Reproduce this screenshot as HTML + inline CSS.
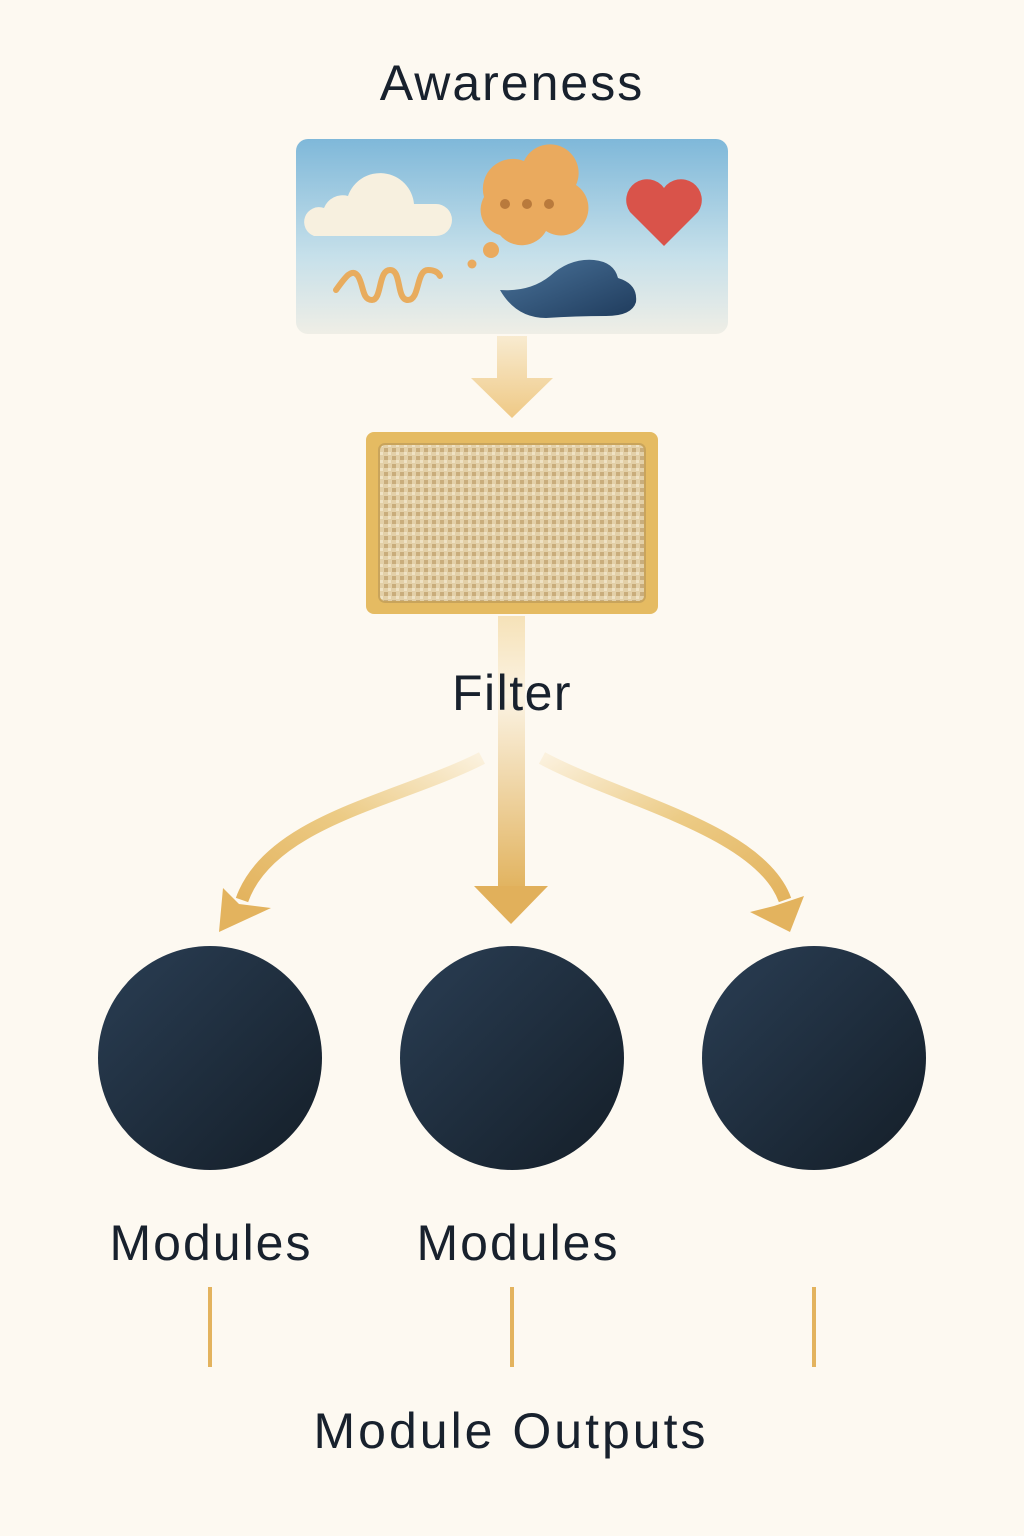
<!DOCTYPE html>
<html><head><meta charset="utf-8"><style>
html,body{margin:0;padding:0;background:#fdf9f1;}
svg{display:block}
</style></head><body>
<svg width="1024" height="1536" viewBox="0 0 1024 1536" xmlns="http://www.w3.org/2000/svg" font-family="Liberation Sans, DejaVu Sans, sans-serif">
<defs>
<linearGradient id="sky" x1="0" y1="0" x2="0" y2="1"><stop offset="0" stop-color="#7fb8d9"/><stop offset="0.6" stop-color="#c6e0ea"/><stop offset="1" stop-color="#efeee6"/></linearGradient>
<linearGradient id="arr1" x1="0" y1="0" x2="0" y2="1"><stop offset="0" stop-color="#f8ebd0"/><stop offset="1" stop-color="#efc985"/></linearGradient>
<linearGradient id="stem" x1="0" y1="0" x2="0" y2="1"><stop offset="0" stop-color="#f6e2b8"/><stop offset="0.3" stop-color="#fbf3e3"/><stop offset="1" stop-color="#e2b461"/></linearGradient>
<linearGradient id="circ" x1="0" y1="0" x2="1" y2="1"><stop offset="0" stop-color="#2a3e54"/><stop offset="1" stop-color="#141e28"/></linearGradient>
<linearGradient id="cl" x1="0" y1="0" x2="1" y2="1"><stop offset="0" stop-color="#4a739a"/><stop offset="1" stop-color="#1f3b5c"/></linearGradient>
<linearGradient id="curveL" x1="1" y1="0" x2="0" y2="1"><stop offset="0" stop-color="#fbf1dd"/><stop offset="0.5" stop-color="#eccb85"/><stop offset="1" stop-color="#e3b35e"/></linearGradient>
<linearGradient id="curveR" x1="0" y1="0" x2="1" y2="1"><stop offset="0" stop-color="#fbf1dd"/><stop offset="0.5" stop-color="#eccb85"/><stop offset="1" stop-color="#e3b35e"/></linearGradient>
<pattern id="weave" width="8" height="8" patternUnits="userSpaceOnUse"><rect width="8" height="8" fill="#e3d0a8"/><rect x="0" y="0" width="4" height="4" fill="#c9ad7c"/><rect x="4" y="4" width="3" height="3" fill="#efe2c4"/></pattern>
</defs>
<text x="512" y="100" font-size="50" text-anchor="middle" fill="#18212d" letter-spacing="2">Awareness</text>
<rect x="296" y="139" width="432" height="195" rx="12" fill="url(#sky)"/>
<path d="M328 236 h108 a16 16 0 0 0 0 -32 h-22 a34 34 0 0 0 -66 -8 a20 20 0 0 0 -24 12 a14 14 0 0 0 -10 28 z" fill="#f7f0df"/>
<path d="M500 235 a26 26 0 0 1 -16 -38 a30 30 0 0 1 40 -36 a28 28 0 0 1 52 24 a26 26 0 0 1 -30 46 a28 28 0 0 1 -46 4z" fill="#eaaa5e"/>
<circle cx="505" cy="204" r="5" fill="#b97a3c"/><circle cx="527" cy="204" r="5" fill="#b97a3c"/><circle cx="549" cy="204" r="5" fill="#b97a3c"/>
<circle cx="491" cy="250" r="8" fill="#eaaa5e"/><circle cx="472" cy="264" r="4.5" fill="#eaaa5e"/>
<path d="M664 246 l-34 -34 a20 20 0 0 1 34 -24 a20 20 0 0 1 34 24 z" fill="#d9534a"/>
<path d="M336 290 C346 276 352 268 358 276 C364 286 362 300 372 300 C382 300 378 270 390 270 C402 270 396 300 408 300 C420 300 416 270 428 270 C434 270 438 272 440 276" fill="none" stroke="#e8ac5e" stroke-width="6" stroke-linecap="round"/>
<path d="M500 290 q30 2 50 -14 q20 -18 44 -16 q20 2 24 18 q20 6 18 24 q-4 14 -30 14 q-30 0 -60 2 q-30 0 -46 -28z" fill="url(#cl)"/>
<path d="M497 336 h30 v42 h26 l-41 40 l-41 -40 h26z" fill="url(#arr1)"/>
<rect x="366" y="432" width="292" height="182" rx="8" fill="#e5bb62"/>
<rect x="379" y="444" width="266" height="158" rx="6" fill="url(#weave)" stroke="#c9a45b" stroke-width="2"/>
<rect x="498" y="616" width="27" height="270" fill="url(#stem)"/>
<path d="M474 886 h74 l-37 38z" fill="#e1b05b"/>
<text x="512" y="710" font-size="50" text-anchor="middle" fill="#18212d" letter-spacing="1.5">Filter</text>
<path d="M482 758 C400 800 270 820 242 900" fill="none" stroke="url(#curveL)" stroke-width="13"/>
<path d="M219 932 l4 -44 l16 16 l32 4z" fill="#e3b35e"/>
<path d="M542 758 C620 800 760 830 785 900" fill="none" stroke="url(#curveR)" stroke-width="13"/>
<path d="M790 932 l-40 -20 l24 -6 l30 -10z" fill="#e3b35e"/>
<circle cx="210" cy="1058" r="112" fill="url(#circ)"/>
<circle cx="512" cy="1058" r="112" fill="url(#circ)"/>
<circle cx="814" cy="1058" r="112" fill="url(#circ)"/>
<text x="211" y="1260" font-size="50" text-anchor="middle" fill="#18212d" letter-spacing="2">Modules</text>
<text x="518" y="1260" font-size="50" text-anchor="middle" fill="#18212d" letter-spacing="2">Modules</text>
<rect x="208" y="1287" width="4" height="80" fill="#e3b35e"/>
<rect x="510" y="1287" width="4" height="80" fill="#e3b35e"/>
<rect x="812" y="1287" width="4" height="80" fill="#e3b35e"/>
<text x="511" y="1448" font-size="50" text-anchor="middle" fill="#18212d" letter-spacing="3">Module Outputs</text>
</svg>
</body></html>
